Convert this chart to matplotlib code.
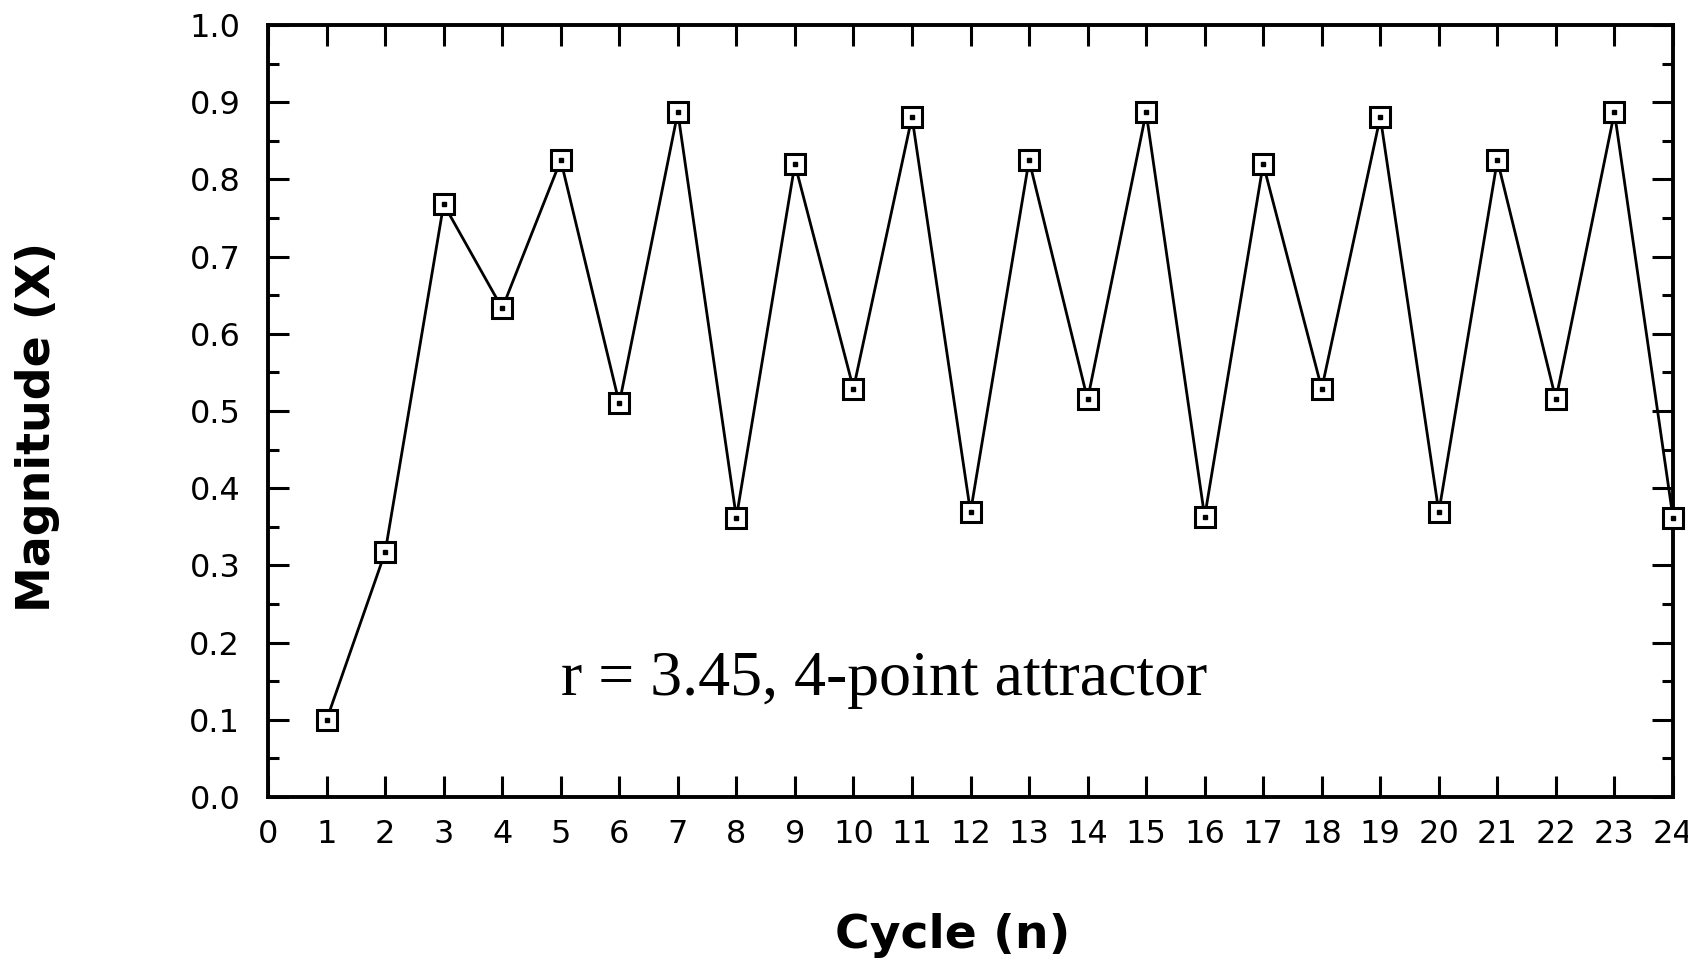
import matplotlib
matplotlib.use('Agg')
import matplotlib.pyplot as plt
from matplotlib.ticker import MultipleLocator

cycles = list(range(1, 25))
magnitude = [0.100, 0.317, 0.768, 0.633, 0.825, 0.510, 0.887, 0.362,
             0.820, 0.529, 0.881, 0.369, 0.825, 0.515, 0.887, 0.363,
             0.820, 0.529, 0.881, 0.369, 0.825, 0.515, 0.887, 0.362]
note = 'r = 3.45, 4-point attractor'

fig = plt.figure(figsize=(16.88, 9.64), dpi=100)
ax = fig.add_axes([0.1588, 0.1732, 0.8323, 0.8008])

ax.plot(cycles, magnitude, color='black', lw=2.0, zorder=2)
ax.plot(cycles, magnitude, ls='none', marker='s', ms=14, mfc='white',
        mec='black', mew=2.2, clip_on=False, zorder=3)
ax.plot(cycles, magnitude, ls='none', marker='s', ms=3, mfc='black',
        mec='black', clip_on=False, zorder=4)

ax.set_xlim(0, 24)
ax.set_ylim(0, 1.0)
ax.xaxis.set_major_locator(MultipleLocator(1))
ax.yaxis.set_major_locator(MultipleLocator(0.1))
ax.yaxis.set_minor_locator(MultipleLocator(0.05))
ax.yaxis.set_major_formatter(plt.FormatStrFormatter('%.1f'))

for s in ax.spines.values():
    s.set_linewidth(2.8)
ax.tick_params(which='major', direction='in', top=True, right=True,
               length=15, width=2.2, labelsize=23)
ax.tick_params(which='minor', direction='in', right=True, length=8, width=2.2)
ax.tick_params(axis='y', pad=20)
ax.tick_params(axis='x', pad=16)

ax.set_ylabel('Magnitude (X)', fontsize=33, fontweight='bold')
ax.set_xlabel('Cycle (n)', fontsize=34, fontweight='bold')
ax.yaxis.set_label_coords(-0.148, 0.479)
ax.xaxis.set_label_coords(0.4875, -0.150)

ax.text(10.52, 0.152, note, fontsize=46, family='Liberation Serif',
        ha='center', va='center')

fig.savefig('out.png', dpi=100)
